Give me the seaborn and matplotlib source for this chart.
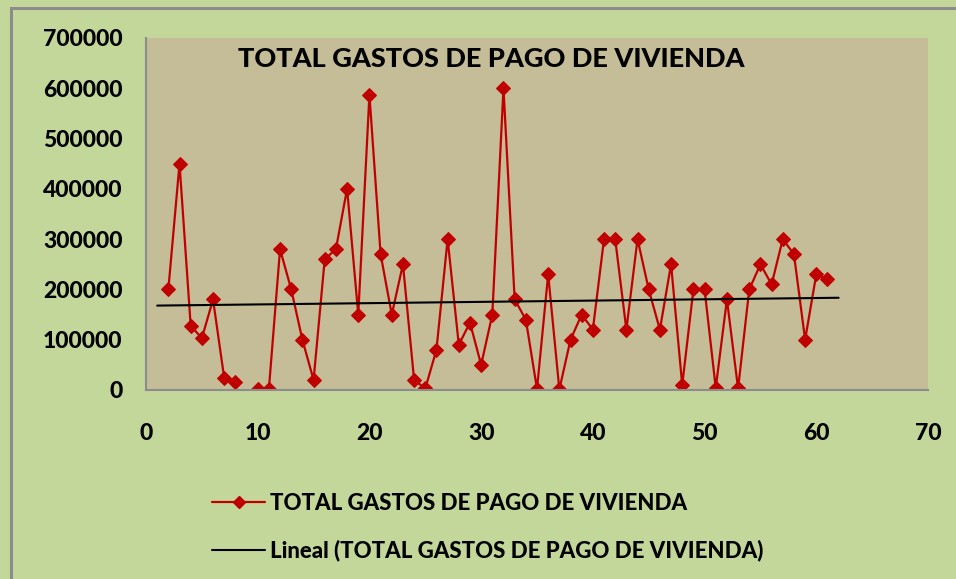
import numpy as np
import pandas as pd
import matplotlib
matplotlib.use("Agg")
import matplotlib.pyplot as plt
import seaborn as sns
from matplotlib.lines import Line2D
from matplotlib.patches import Rectangle

# data (x = 9 is empty in the source)
dias = list(range(2, 62))
gastos = [200000, 450000, 128000, 103000, 180000, 24000, 16000, np.nan, 2000, 2000,
          280000, 200000, 100000, 20000, 260000, 280000, 400000, 150000, 587000, 270000,
          150000, 250000, 20000, 3000, 80000, 300000, 90000, 134000, 50000, 150000,
          600000, 180000, 140000, 2000, 230000, 1000, 100000, 150000, 120000, 300000,
          300000, 120000, 300000, 200000, 120000, 250000, 10000, 200000, 200000, 4000,
          180000, 3000, 200000, 250000, 210000, 300000, 270000, 100000, 230000, 220000]
serie = "TOTAL GASTOS DE PAGO DE VIVIENDA"
x_ticks = [0, 10, 20, 30, 40, 50, 60, 70]
y_ticks = [0, 100000, 200000, 300000, 400000, 500000, 600000, 700000]

df = pd.DataFrame({"x": dias, "y": gastos})
df["seg"] = df["y"].isna().cumsum()
ok = df.dropna()

# linear trend, extended one unit each side like Excel
coef = np.polyfit(ok["x"], ok["y"], 1)
trend = pd.DataFrame({"x": [1, 62]})
trend["y"] = np.polyval(coef, trend["x"])

sns.set_style("white")
plt.rcParams["font.family"] = ["Lato", "DejaVu Sans"]
plt.rcParams["text.color"] = "black"

fig = plt.figure(figsize=(9.56, 5.79), dpi=100)
fig.patch.set_facecolor("#C4D79B")
fig.patches.append(Rectangle((11 / 956, -0.1), 1.2, 1.1 - 8 / 579, transform=fig.transFigure,
                             fill=False, edgecolor="#8C8C8C", linewidth=2.2))
ax = fig.add_axes([146 / 956, 1 - 390 / 579, 782 / 956, 352 / 579])
ax.set_facecolor("#C4BD97")

rojo = "#C00000"
sns.lineplot(data=ok, x="x", y="y", units="seg", estimator=None, color=rojo,
             marker="D", markersize=7, markeredgecolor=rojo, linewidth=1.6,
             ax=ax, legend=False)
sns.lineplot(data=trend, x="x", y="y", color="black", linewidth=1.5, ax=ax, legend=False)

ax.set_xlim(0, 70)
ax.set_ylim(0, 700000)
ax.set_xticks(x_ticks)
ax.set_yticks(y_ticks)
ax.set_xticklabels([str(t) for t in x_ticks], fontsize=16.5, fontweight="black", color="black")
ax.set_yticklabels([str(t) for t in y_ticks], fontsize=16.5, fontweight="black", color="black")
ax.tick_params(axis="x", pad=24, length=0)
ax.tick_params(axis="y", pad=17, length=0)
ax.set_xlabel("")
ax.set_ylabel("")
for s in ["top", "right"]:
    ax.spines[s].set_visible(False)
for s in ["left", "bottom"]:
    ax.spines[s].set_color("#8C8C8C")
    ax.spines[s].set_linewidth(1.5)

ax.text(0.442, 0.975, serie, transform=ax.transAxes, ha="center", va="top",
        fontsize=19.5, fontweight="black")

handles = [Line2D([], [], color=rojo, marker="D", markersize=6, linewidth=1.6),
           Line2D([], [], color="black", linewidth=1.5)]
fig.legend(handles, [serie, "Lineal (" + serie + ")"], loc="upper left",
           bbox_to_anchor=(192 / 956, 1 - 473 / 579), frameon=False,
           prop={"size": 16, "weight": "black"}, labelspacing=1.15,
           handlelength=2.4, handletextpad=0.2)

fig.savefig("out.png", dpi=100, facecolor=fig.get_facecolor())
